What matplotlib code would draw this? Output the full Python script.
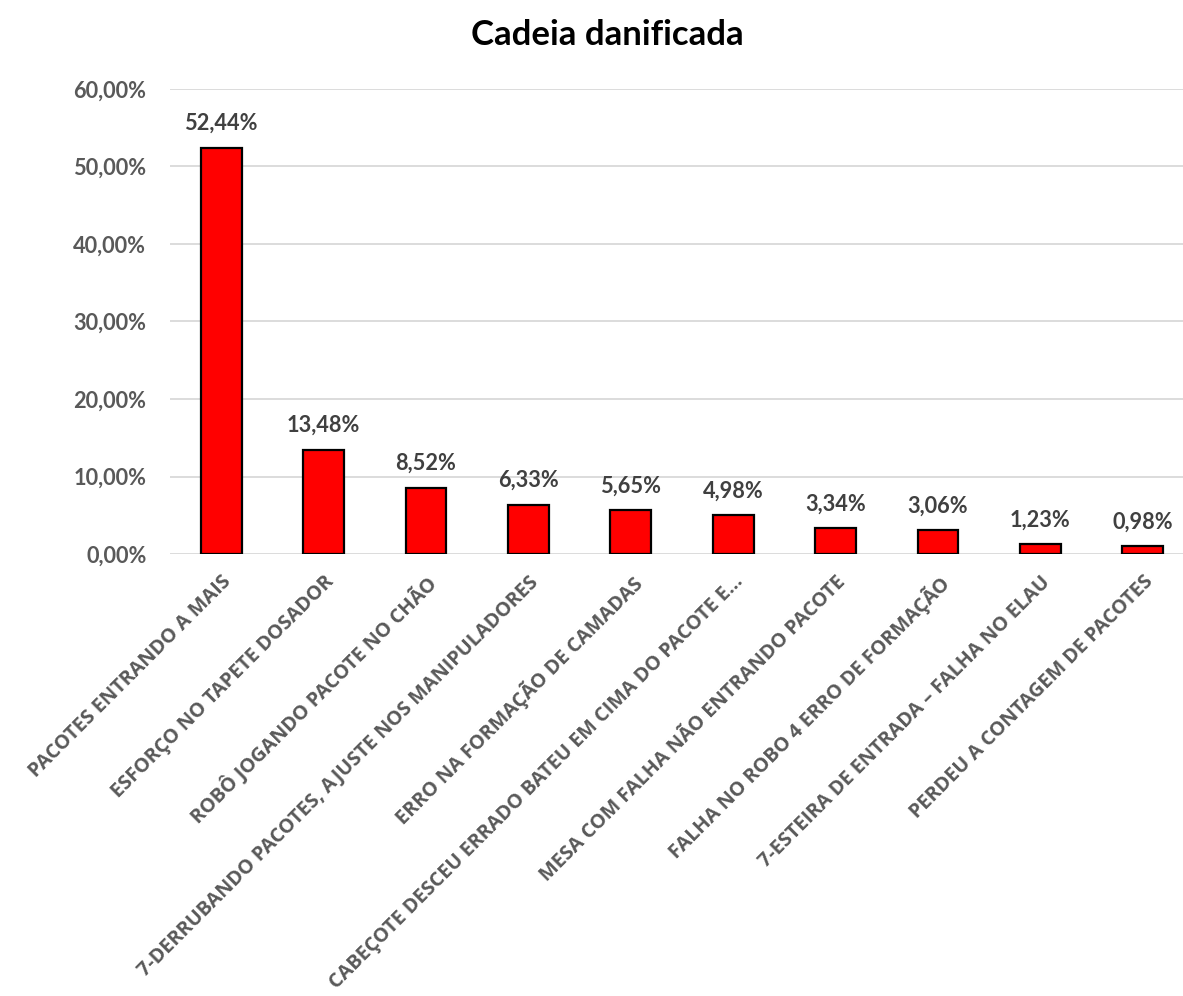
import matplotlib.pyplot as plt
from matplotlib.ticker import FuncFormatter, MultipleLocator

# Dados
categorias = [
    'PACOTES ENTRANDO A MAIS',
    'ESFORÇO NO TAPETE DOSADOR',
    'ROBÔ JOGANDO PACOTE NO CHÃO',
    '7-DERRUBANDO PACOTES, AJUSTE NOS MANIPULADORES',
    'ERRO NA FORMAÇÃO DE CAMADAS',
    'CABEÇOTE DESCEU ERRADO BATEU EM CIMA DO PACOTE E…',
    'MESA COM FALHA NÃO ENTRANDO PACOTE',
    'FALHA NO ROBO 4 ERRO DE FORMAÇÃO',
    '7-ESTEIRA DE ENTRADA – FALHA NO ELAU',
    'PERDEU A CONTAGEM DE PACOTES',
]
percentuais = [52.44, 13.48, 8.52, 6.33, 5.65, 4.98, 3.34, 3.06, 1.23, 0.98]

cinza = '#595959'
fig = plt.figure(figsize=(11.83, 9.96), dpi=100)
ax = fig.add_axes([170 / 1183, 1 - 554 / 996, 1024 / 1183, 465 / 996])

x = range(len(categorias))
bars = ax.bar(x, percentuais, width=0.4, color='#FF0000', edgecolor='black',
              linewidth=1.6, zorder=3)

ax.set_xlim(-0.5, len(categorias) - 0.5)
ax.set_ylim(0, 60)
ax.yaxis.set_major_locator(MultipleLocator(10))
ax.yaxis.set_major_formatter(FuncFormatter(lambda v, p: f'{v:.2f}%'.replace('.', ',')))
ax.grid(axis='y', color='#D9D9D9', linewidth=1.3, zorder=0)
for s in ax.spines.values():
    s.set_visible(False)
ax.tick_params(axis='both', length=0)
ax.tick_params(axis='y', pad=17)

for lbl in ax.get_yticklabels():
    lbl.set_fontfamily('Lato')
    lbl.set_fontweight('bold')
    lbl.set_fontsize(15.7)
    lbl.set_color(cinza)

ax.set_xticks(list(x))
ax.set_xticklabels(categorias, rotation=45, ha='right', rotation_mode='anchor',
                   fontfamily='Open Sans', fontweight='bold', fontsize=14.3,
                   color=cinza)
ax.tick_params(axis='x', pad=13)

# Rótulos de valor
for b, v in zip(bars, percentuais):
    ax.annotate(f'{v:.2f}%'.replace('.', ','), (b.get_x() + b.get_width() / 2, v),
                xytext=(0, 10), textcoords='offset points', ha='center', va='bottom',
                fontfamily='Lato', fontweight='bold', fontsize=15.7, color='#404040')

fig.text(607 / 1183, 1 - 35 / 996, 'Cadeia danificada', ha='center', va='center',
         fontfamily='Lato', fontweight='bold', fontsize=25, color='black')

plt.savefig('out.png', dpi=100)
